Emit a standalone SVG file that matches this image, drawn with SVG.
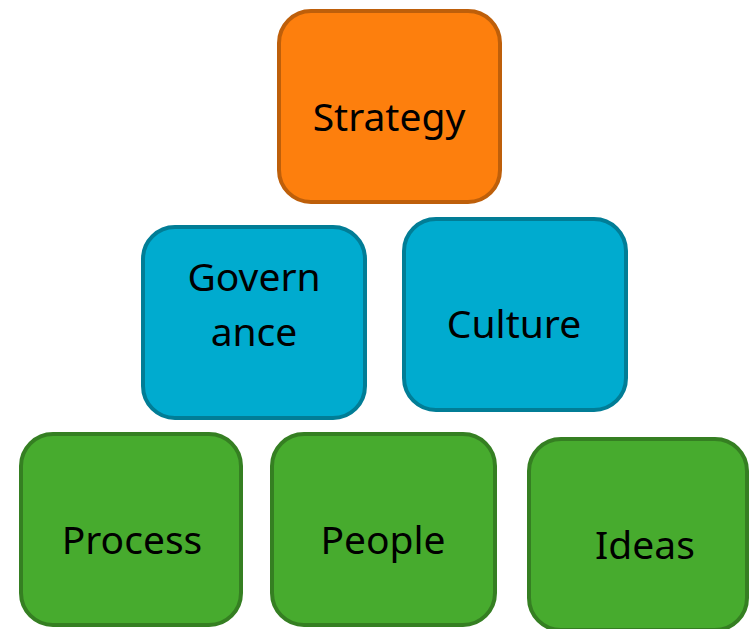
<svg xmlns="http://www.w3.org/2000/svg" width="750" height="629" viewBox="0 0 750 629">
<style>
.box{stroke-width:4}
.o{fill:#FD7F0D;stroke:#BE5F0A}
.b{fill:#00ABCF;stroke:#017D96}
.g{fill:#47AB2E;stroke:#357F22}
text{font-family:"Noto Sans","Open Sans","Liberation Sans",sans-serif;font-size:39px;fill:#000;text-anchor:middle}
</style>
<rect width="750" height="629" fill="#fff"/>
<g id="connectors"/>
<g id="strategy"><rect class="box o" x="279" y="11" width="221" height="191" rx="32"/><text x="389" y="131">Strategy</text></g>
<g id="governance"><rect class="box b" x="143" y="227" width="222" height="191" rx="32"/><text x="254" y="291">Govern</text><text x="254" y="346">ance</text></g>
<g id="culture"><rect class="box b" x="404" y="219" width="222" height="191" rx="32"/><text x="514" y="338">Culture</text></g>
<g id="process"><rect class="box g" x="21" y="434" width="220" height="191" rx="32"/><text x="132" y="554">Process</text></g>
<g id="people"><rect class="box g" x="272" y="434" width="223" height="191" rx="32"/><text x="383" y="554">People</text></g>
<g id="ideas"><rect class="box g" x="529" y="439" width="218" height="191" rx="32"/><text x="645" y="559">Ideas</text></g>
</svg>
